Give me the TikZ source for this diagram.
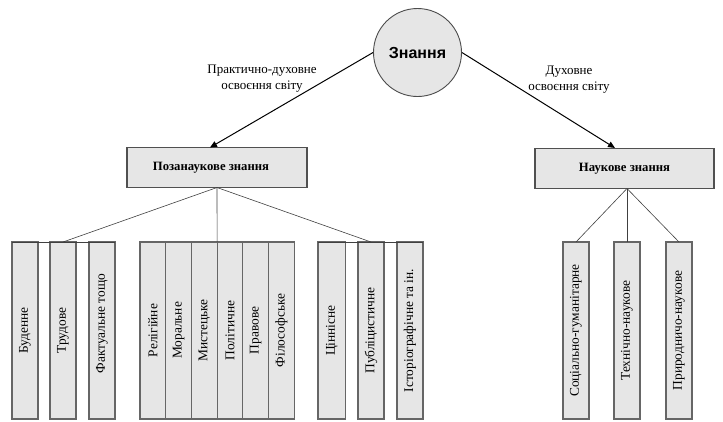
\documentclass[tikz,border=0pt]{standalone}
\usepackage{fontspec}
\setmainfont{Liberation Serif}
\newfontfamily\headsans{Liberation Sans}
\usetikzlibrary{arrows.meta,calc}
\definecolor{boxfill}{HTML}{E6E6E6}
\definecolor{boxedge}{HTML}{505050}
\definecolor{smalledge}{HTML}{666666}
\tikzset{
  x=1pt,y=-1pt,
  topbox/.style={draw=boxedge,line width=1.2pt,fill=boxfill,inner sep=0pt,outer sep=0pt,
    minimum height=40pt,font=\fontsize{12.7}{14}\selectfont\bfseries},
  vbox/.style={draw=smalledge,line width=1.2pt,fill=boxfill,inner sep=0pt,outer sep=0pt,
    minimum height=177pt,font=\fontsize{13.4}{15}\selectfont},
  link/.style={draw=black!75,line width=0.6pt},
  arr/.style={draw=black,line width=1pt,-{Triangle[length=7pt,width=6pt]}},
  lbl/.style={align=center,font=\fontsize{13}{16}\selectfont,inner sep=0pt}
}
\begin{document}
\begin{tikzpicture}
\useasboundingbox (0,0) rectangle (723,421);
% root
\node[circle,draw=black!70,line width=0.9pt,fill=boxfill,minimum size=88pt,inner sep=0pt,
  font=\headsans\fontsize{16}{18}\selectfont\bfseries] (root) at (417.5,52.5) {Знання};
% level 1
\node[topbox,minimum width=180pt] (pz) at (217,167.5) {Позанаукове знання\hspace*{12pt}};
\node[topbox,minimum width=179pt] (nk) at (624.5,168.5) {Наукове знання};
\draw[arr] (root.west) -- (210,147.5) coordinate (pzt);
\draw[arr] (root.east) -- (615,148) coordinate (nkt);
\node[lbl] (l1) at (262,79) {Практично-духовне\\освоєння світу};
\node[lbl] (l2) at (569,80) {Духовне\\освоєння світу};
% left group 1
\node[vbox,minimum width=26pt] (b1) at (25,330.5) {\rotatebox{90}{Буденне}};
\node[vbox,minimum width=26pt] (b2) at (63,330.5) {\rotatebox{90}{Трудове}};
\node[vbox,minimum width=26pt] (b3) at (102,330.5) {\rotatebox{90}{\hspace*{14pt}Фактуальне тощо}};
% group 2
\node[vbox,minimum width=25.7pt] (m1) at (152.85,330.5) {\rotatebox{90}{Релігійне}};
\node[vbox,minimum width=25.7pt] (m2) at (178.55,330.5) {\rotatebox{90}{Моральне}};
\node[vbox,minimum width=25.7pt] (m3) at (204.25,330.5) {\rotatebox{90}{Мистецьке}};
\node[vbox,minimum width=25.7pt] (m4) at (229.95,330.5) {\rotatebox{90}{Політичне}};
\node[vbox,minimum width=25.7pt] (m5) at (255.65,330.5) {\rotatebox{90}{Правове}};
\node[vbox,minimum width=25.7pt] (m6) at (281.35,330.5) {\rotatebox{90}{Філософське}};
% group 3
\node[vbox,minimum width=27.5pt] (c1) at (331.75,330.5) {\rotatebox{90}{Ціннісне}};
\node[vbox,minimum width=26pt] (c2) at (371,330.5) {\rotatebox{90}{Публіцистичне}};
\node[vbox,minimum width=26pt] (c3) at (410,330.5) {\rotatebox{90}{Історіографічне та ін.}};
% right group
\node[vbox,minimum width=26pt] (r1) at (576,330.5) {\rotatebox{90}{Соціально-гуманітарне}};
\node[vbox,minimum width=26pt] (r2) at (627,330.5) {\rotatebox{90}{Технічно-наукове}};
\node[vbox,minimum width=26pt] (r3) at (679,330.5) {\rotatebox{90}{Природничо-наукове}};
% top lines across groups
\draw[link] (b1.north west) -- (b3.north east);
\draw[link] (c1.north west) -- (c3.north east);
% connectors
\draw[link] (pz.south) -- (b2.north);
\draw[link] (pz.south) -- (m3.north east);
\draw[link] (pz.south) -- (c2.north);
\coordinate (nkb) at ($(nk.south)+(2.5,0)$);
\draw[link] (nkb) -- (r1.north);
\draw[link] (nkb) -- (r2.north);
\draw[link] (nkb) -- (r3.north);
\end{tikzpicture}
\end{document}
